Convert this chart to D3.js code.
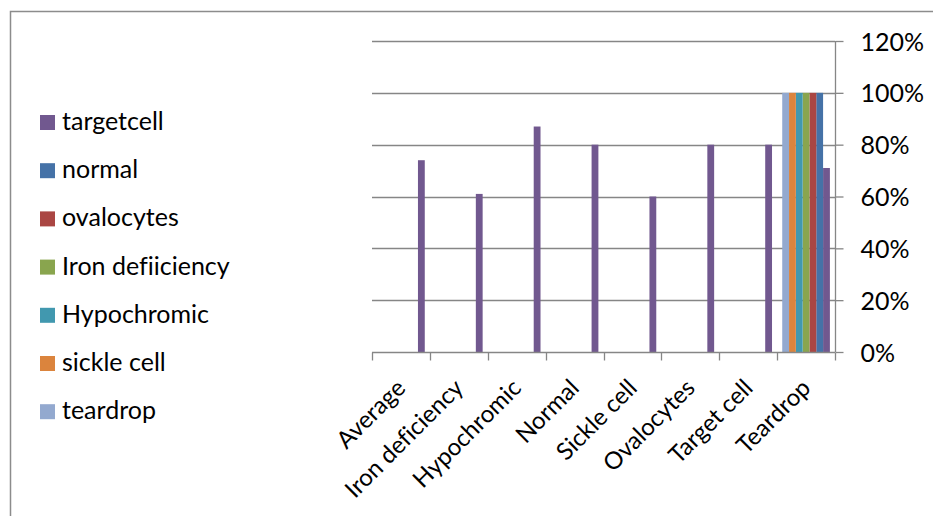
<!DOCTYPE html>
<html>
<head>
<meta charset="utf-8">
<script src="https://cdn.jsdelivr.net/npm/d3@7"></script>
<style>
  html, body { margin: 0; padding: 0; background: #fff; }
  svg { display: block; }
  text { font-family: Lato, "Liberation Sans", sans-serif; fill: #000; font-variant-ligatures: none; font-feature-settings: "liga" 0; }
</style>
</head>
<body>
<svg id="chart" width="933" height="516"></svg>
<script>
// ---- data ----
const categories = ["Average", "Iron deficiency", "Hypochromic", "Normal", "Sickle cell", "Ovalocytes", "Target cell", "Teardrop"];
const seriesNames = ["targetcell", "normal", "ovalocytes", "Iron defiiciency", "Hypochromic", "sickle cell", "teardrop"];
const seriesColors = ["#71588F", "#4572A7", "#AA4643", "#89A54E", "#4198AF", "#DB843D", "#93A9CF"];
const targetcellValues = [0.74, 0.61, 0.87, 0.80, 0.60, 0.80, 0.80, 0.71];
const normalValues = [null, null, null, null, null, null, null, 1.00];
const ovalocytesValues = [null, null, null, null, null, null, null, 1.00];
const ironValues = [null, null, null, null, null, null, null, 1.00];
const hypochromicValues = [null, null, null, null, null, null, null, 1.00];
const sickleValues = [null, null, null, null, null, null, null, 1.00];
const teardropValues = [null, null, null, null, null, null, null, 1.00];
const yTicks = [0, 0.2, 0.4, 0.6, 0.8, 1.0, 1.2];

const seriesValues = [targetcellValues, normalValues, ovalocytesValues, ironValues, hypochromicValues, sickleValues, teardropValues];
// bars are drawn left-to-right in reverse legend order
const barOrder = seriesNames.slice().reverse();

const svg = d3.select("#chart");
const pLeft = 372, pRight = 835, pTop = 41, pBottom = 352;
const fontSize = 25;
const xFontSize = 24;
const FONT = "Lato, 'Liberation Sans', sans-serif";

// outer chart border
svg.append("rect")
  .attr("x", 10.5).attr("y", 11.5)
  .attr("width", 1000).attr("height", 1000)
  .attr("fill", "none").attr("stroke", "#8c8c8c").attr("stroke-width", 1.5);

const x = d3.scaleBand().domain(categories).range([pLeft, pRight]).padding(0);
const xInner = d3.scaleBand().domain(barOrder).range([0, x.bandwidth()]).paddingInner(0).paddingOuter(0.75);
const y = d3.scaleLinear().domain([0, 1.2]).range([pBottom, pTop]);

// gridlines
svg.append("g").selectAll("line").data(yTicks.filter(d => d > 0)).join("line")
  .attr("x1", pLeft).attr("x2", pRight)
  .attr("y1", d => Math.round(y(d)) + 0.5).attr("y2", d => Math.round(y(d)) + 0.5)
  .attr("stroke", "#868686").attr("stroke-width", 1.3);

// bars
const rows = [];
seriesNames.forEach((s, si) => {
  seriesValues[si].forEach((v, ci) => {
    if (v != null) rows.push({ s, c: categories[ci], v, color: seriesColors[si] });
  });
});
svg.append("g").selectAll("rect").data(rows).join("rect")
  .attr("x", d => x(d.c) + xInner(d.s))
  .attr("width", xInner.bandwidth())
  .attr("y", d => y(d.v))
  .attr("height", d => y(0) - y(d.v))
  .attr("fill", d => d.color);

// right y axis
const yAxis = d3.axisRight(y).tickValues(yTicks).tickSize(8).tickFormat(d3.format(".0%"));
const gy = svg.append("g").attr("transform", `translate(${pRight + 0.5},0)`).call(yAxis);
gy.select(".domain").attr("stroke", "#868686").attr("stroke-width", 1.3).attr("d", `M0,${pTop}V${pBottom}`);
gy.selectAll(".tick line").attr("stroke", "#868686").attr("stroke-width", 1.3);
gy.selectAll(".tick text")
  .attr("x", 25).attr("dy", "0.36em")
  .style("font-size", fontSize + "px").style("font-family", FONT).attr("fill", "#000");

// bottom x axis
const xAxis = d3.axisBottom(x).tickSize(0).tickFormat(d => d);
const gx = svg.append("g").attr("transform", `translate(0,${pBottom + 0.5})`).call(xAxis);
gx.select(".domain").attr("stroke", "#868686").attr("stroke-width", 1.3).attr("d", `M${pLeft},0H${pRight}`);
gx.selectAll(".tick text")
  .attr("text-anchor", "end")
  .attr("transform", "translate(6,37) rotate(-45)")
  .attr("y", 0).attr("dy", "0")
  .style("font-size", xFontSize + "px").style("font-family", FONT).attr("fill", "#000");
// category boundary ticks
const bounds = categories.map(c => x(c)).concat([pRight]);
gx.append("g").selectAll("line").data(bounds).join("line")
  .attr("x1", d => Math.round(d) + 0.5).attr("x2", d => Math.round(d) + 0.5)
  .attr("y1", 0).attr("y2", 8).attr("stroke", "#868686").attr("stroke-width", 1.3);

// legend
const legend = svg.append("g");
const lg = legend.selectAll("g").data(seriesNames).join("g")
  .attr("transform", (d, i) => `translate(40,${130 + i * 48.2})`);
lg.append("rect").attr("x", 0).attr("y", -15).attr("width", 15).attr("height", 15)
  .attr("fill", (d, i) => seriesColors[i]);
lg.append("text").attr("x", 22).attr("y", 0).text(d => d)
  .style("font-size", fontSize + "px").style("font-family", FONT);
</script>
</body>
</html>
